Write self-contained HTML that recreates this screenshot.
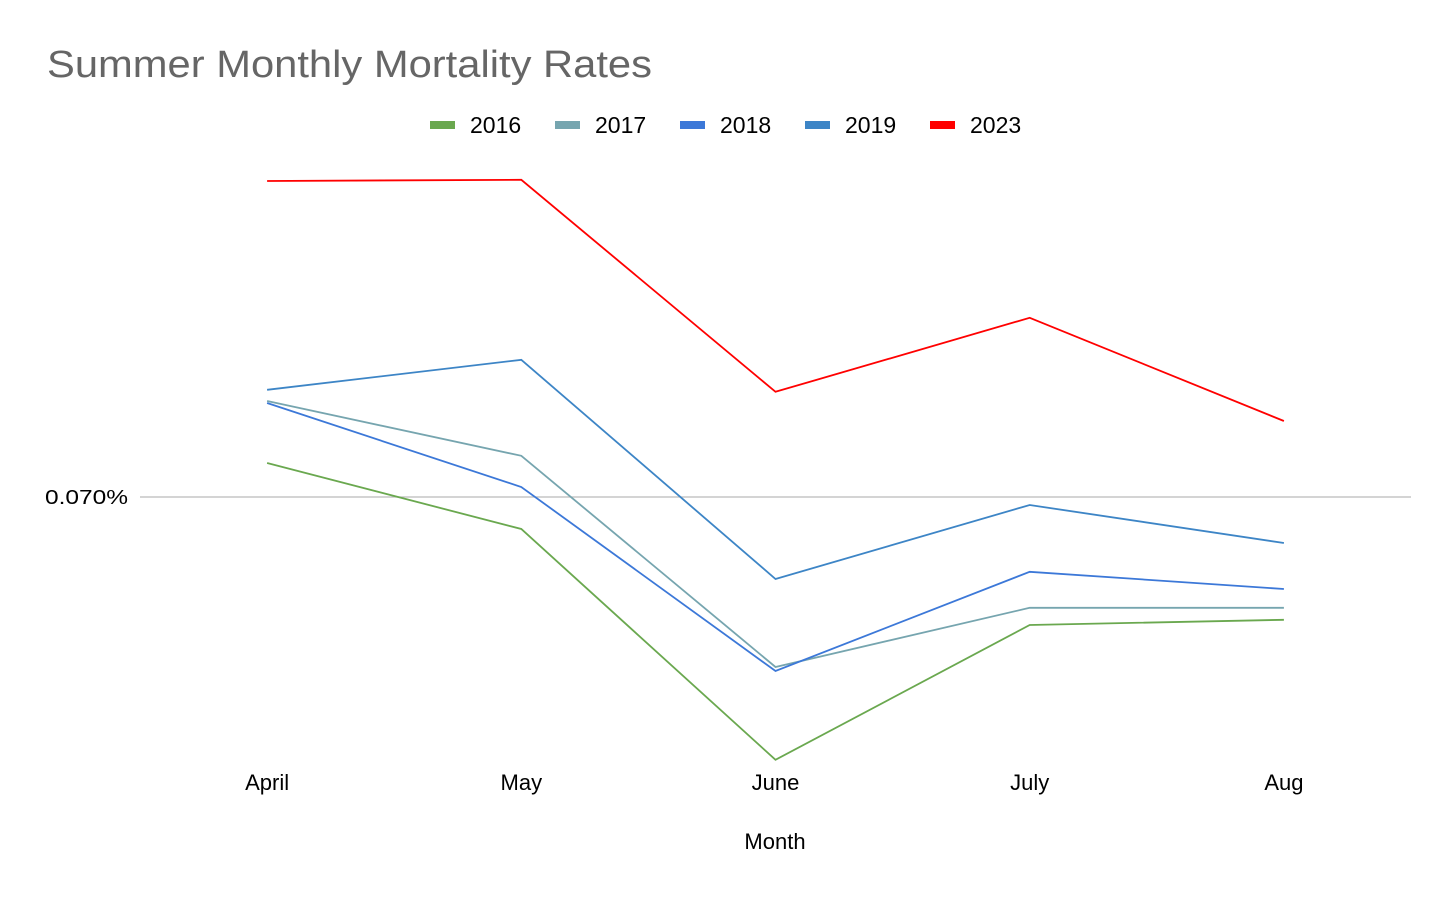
<!DOCTYPE html>
<html><head><meta charset="utf-8"><style>
html,body{margin:0;padding:0;background:#fff;}
svg{display:block;font-family:"Liberation Sans",sans-serif;}
</style></head><body>
<svg id="chart" width="1456" height="900">
<text x="47" y="77" font-size="38" fill="#666" textLength="605" lengthAdjust="spacingAndGlyphs">Summer Monthly Mortality Rates</text>
<g id="legend"></g>
<line x1="140" x2="1411" y1="497" y2="497" stroke="#bbb" stroke-width="1.3"/>
<text x="45" y="504" font-size="20" fill="#000" textLength="83" lengthAdjust="spacingAndGlyphs">0.070%</text>
<g id="xticks"></g>
<text x="775" y="849" font-size="22" text-anchor="middle" fill="#000">Month</text>
<g id="series"></g>
</svg>
<script>
const months = ["April","May","June","July","Aug"];
const years = ["2016","2017","2018","2019","2023"];
const s2016 = [0.07085,0.0692,0.06343,0.0668,0.06693];
const s2017 = [0.0724,0.07103,0.06575,0.06723,0.06723];
const s2018 = [0.07235,0.07025,0.06565,0.06813,0.0677];
const s2019 = [0.07268,0.07343,0.06795,0.0698,0.06885];
const s2023 = [0.0779,0.07793,0.07263,0.07448,0.0719];
const colors = ["#6aa84f","#76a5af","#3c78d8","#3d85c6","#ff0000"];
const allSeries = [s2016,s2017,s2018,s2019,s2023];
const NS="http://www.w3.org/2000/svg";
const x0=140,x1=1411;
function xScale(i){const bw=(x1-x0)/months.length;return x0+bw*(i+0.5);}
function yScale(v){return 497-(v-0.070)*40000;}
const xt=document.getElementById('xticks');
months.forEach((m,i)=>{
  const t=document.createElementNS(NS,'text');
  t.setAttribute('x',xScale(i));t.setAttribute('y',790);
  t.setAttribute('font-size','22');t.setAttribute('text-anchor','middle');
  t.textContent=m;
  
  
  xt.appendChild(t);
});
const sg=document.getElementById('series');
allSeries.forEach((s,k)=>{
  const p=document.createElementNS(NS,'polyline');
  p.setAttribute('points',s.map((v,i)=>xScale(i)+','+yScale(v)).join(' '));
  p.setAttribute('fill','none');p.setAttribute('stroke',colors[k]);p.setAttribute('stroke-width','1.8');
  
  
  sg.appendChild(p);
});
const lg=document.getElementById('legend');
const lx=[430,555,680,805,930];
years.forEach((y,k)=>{
  const r=document.createElementNS(NS,'rect');
  r.setAttribute('x',lx[k]);r.setAttribute('y',121);r.setAttribute('width',25);r.setAttribute('height',8);
  r.setAttribute('fill',colors[k]);
  
  
  lg.appendChild(r);
  const t=document.createElementNS(NS,'text');
  t.setAttribute('x',lx[k]+40);t.setAttribute('y',133);t.setAttribute('font-size','23');
  t.textContent=y;
  
  
  lg.appendChild(t);
});
</script>
</body></html>
